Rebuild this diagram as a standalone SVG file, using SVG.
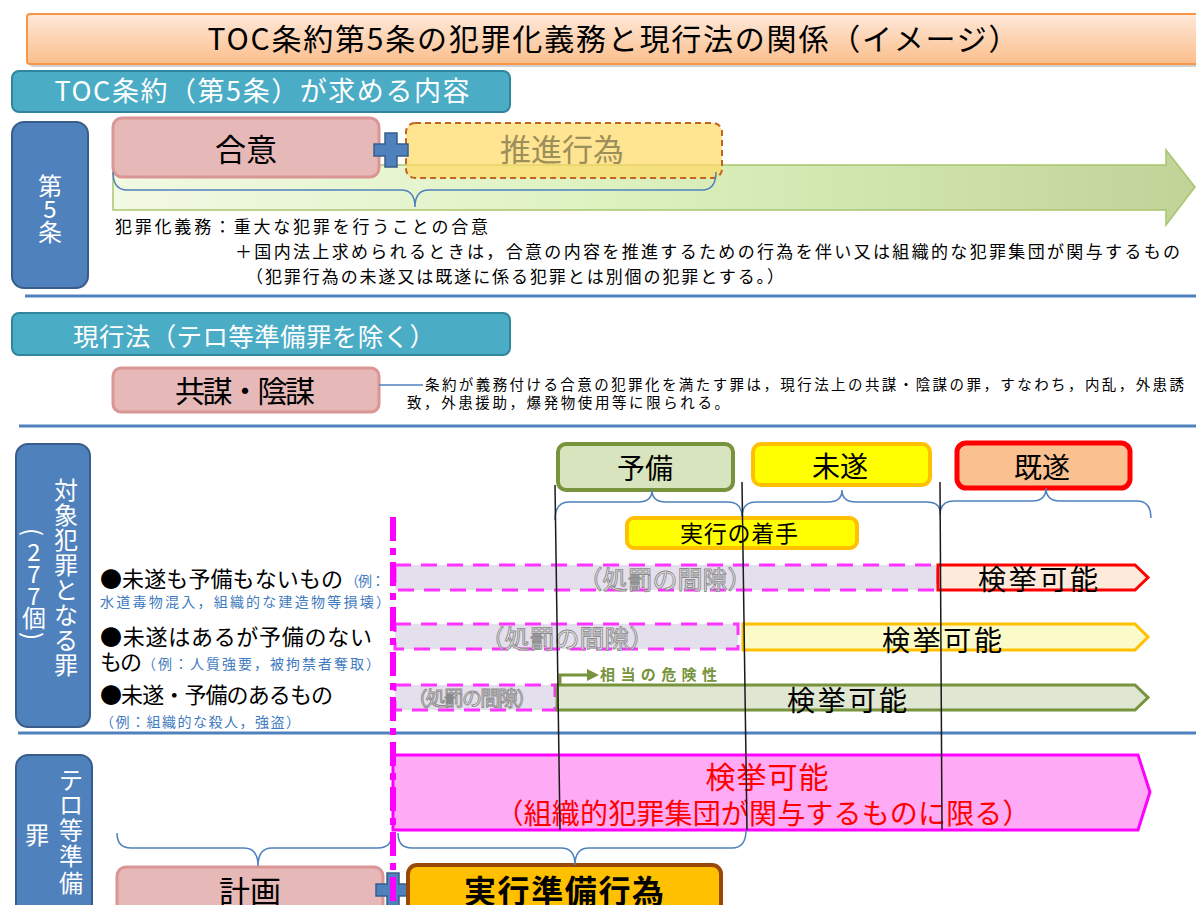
<svg xmlns="http://www.w3.org/2000/svg" width="1196" height="905" viewBox="0 0 1196 905">
<defs>
  <linearGradient id="gTitle" x1="0" y1="0" x2="0" y2="1">
    <stop offset="0" stop-color="#fee9da"/>
    <stop offset="1" stop-color="#fbbe8b"/>
  </linearGradient>
  <linearGradient id="gArrow" x1="0" y1="0" x2="1" y2="0">
    <stop offset="0" stop-color="#f2f9e4"/>
    <stop offset="0.45" stop-color="#def2c0"/>
    <stop offset="1" stop-color="#c0d498"/>
  </linearGradient>
  <path id="plusShape" d="M-6,-17 h12 v11 h11 v12 h-11 v11 h-12 v-11 h-11 v-12 h11 z"/>
</defs>
<style>
  text { font-family: "Noto Sans CJK JP", "Noto Sans", sans-serif; }
  .hdr { fill:#4bacc6; stroke:#31859c; stroke-width:2; }
  .hdrT { fill:#ffffff; text-anchor:middle; }
  .side { fill:#4f81bd; stroke:#385d8a; stroke-width:2; }
  .sideT { fill:#ffffff; font-size:24px; text-anchor:middle; dominant-baseline:central; }
  .pinkBox { fill:#e6b9b8; stroke:#d99694; stroke-width:3; }
  .sep { stroke:#4f81bd; stroke-width:3; }
  .brace { fill:none; stroke:#4f81bd; stroke-width:1.5; }
  .vline { stroke:#1a1a1a; stroke-width:1.5; }
  .gap { fill:#e4dfec; stroke:#ff33ff; stroke-width:3; stroke-dasharray:16 10; }
  .gapT { fill:#eeeeee; stroke:#8a8a8a; stroke-width:0.9; text-anchor:middle; }
  .row { fill:#000000; font-size:22px; }
  .ex { fill:#3f7bc0; font-size:14px; }
  .mid { text-anchor:middle; fill:#000000; }
  .plus { fill:#4f81bd; stroke:#385d8a; stroke-width:1.5; }
  .body { fill:#000000; font-size:17px; }
</style>

<!-- Title -->
<g id="title">
  <rect x="30" y="17" width="1185" height="50" rx="3" fill="#000000" opacity="0.18"/>
  <rect x="27" y="14" width="1185" height="50" rx="3" fill="url(#gTitle)" stroke="#f79646" stroke-width="2"/>
  <text x="613" y="50" class="mid" font-size="30" textLength="811" lengthAdjust="spacing">TOC条約第5条の犯罪化義務と現行法の関係（イメージ）</text>
</g>

<!-- Section 1 -->
<g id="header1">
  <rect x="12" y="71" width="498" height="41" rx="7" class="hdr"/>
  <text x="262" y="101" class="hdrT" font-size="27" textLength="415" lengthAdjust="spacing">TOC条約（第5条）が求める内容</text>
</g>
<g id="side-art5">
  <rect x="12" y="122" width="76" height="166" rx="12" class="side"/>
  <text x="50" y="184" class="sideT" font-size="25">第</text>
  <text x="50" y="207" class="sideT" font-size="25">5</text>
  <text x="50" y="230" class="sideT" font-size="25">条</text>
</g>
<g id="timeline-arrow">
  <polygon points="113,165 1166,165 1166,150 1195,187 1166,225 1166,210 113,210" fill="url(#gArrow)" stroke="#a9c56f" stroke-width="1.5"/>
</g>
<g id="node-goi">
  <rect x="113" y="118" width="266" height="59" rx="9" class="pinkBox"/>
  <text x="246" y="161" class="mid" font-size="31">合意</text>
</g>
<g id="node-suishin">
  <rect x="406" y="123" width="316" height="55" rx="9" fill="#ffd966" fill-opacity="0.72" stroke="#c0651e" stroke-width="2" stroke-dasharray="6 4"/>
  <text x="562" y="161" text-anchor="middle" font-size="31" fill="#9d8f5a">推進行為</text>
</g>
<g id="plus1"><use href="#plusShape" x="391" y="150" class="plus"/></g>
<g id="text-art5">
  <text x="115" y="233" class="body" textLength="373" lengthAdjust="spacing">犯罪化義務：重大な犯罪を行うことの合意</text>
  <text x="235" y="258" class="body" textLength="945" lengthAdjust="spacing">＋国内法上求められるときは，合意の内容を推進するための行為を伴い又は組織的な犯罪集団が関与するもの</text>
  <text x="246" y="283" class="body" textLength="538" lengthAdjust="spacing">（犯罪行為の未遂又は既遂に係る犯罪とは別個の犯罪とする。）</text>
</g>

<!-- Section 2 -->
<g id="header2">
  <rect x="12" y="313" width="498" height="42" rx="7" class="hdr"/>
  <text x="254" y="346" class="hdrT" font-size="25.5" textLength="362" lengthAdjust="spacing">現行法（テロ等準備罪を除く）</text>
</g>
<g id="node-kyobo">
  <rect x="113" y="368" width="266" height="44" rx="8" class="pinkBox"/>
  <text x="245" y="402" class="mid" font-size="30" textLength="140" lengthAdjust="spacing">共謀・陰謀</text>
</g>
<g id="text-kyobo">
  <text x="425" y="390" font-size="14.5" fill="#000" textLength="759" lengthAdjust="spacing">条約が義務付ける合意の犯罪化を満たす罪は，現行法上の共謀・陰謀の罪，すなわち，内乱，外患誘</text>
  <text x="407" y="408" font-size="14.5" fill="#000" textLength="322" lengthAdjust="spacing">致，外患援助，爆発物使用等に限られる。</text>
</g>

<!-- Section 3 -->
<g id="side-target">
  <rect x="16" y="444" width="74" height="283" rx="12" class="side"/>
  <text x="66" y="488" class="sideT">対</text>
  <text x="66" y="513" class="sideT">象</text>
  <text x="66" y="538" class="sideT">犯</text>
  <text x="66" y="563" class="sideT">罪</text>
  <text x="66" y="588" class="sideT">と</text>
  <text x="66" y="613" class="sideT">な</text>
  <text x="66" y="638" class="sideT">る</text>
  <text x="66" y="663" class="sideT">罪</text>
  <text x="34" y="532" class="sideT" transform="rotate(90 34 532)">(</text>
  <text x="34" y="550" class="sideT" font-size="23">2</text>
  <text x="34" y="572" class="sideT" font-size="23">7</text>
  <text x="34" y="594" class="sideT" font-size="23">7</text>
  <text x="34" y="616" class="sideT" font-size="22">個</text>
  <text x="34" y="636" class="sideT" transform="rotate(90 34 636)">)</text>
</g>
<g id="stage-yobi">
  <rect x="558" y="444" width="175" height="46" rx="8" fill="#d7e4bd" stroke="#77933c" stroke-width="4"/>
  <text x="645" y="479" class="mid" font-size="28">予備</text>
</g>
<g id="stage-misui">
  <rect x="753" y="444" width="177" height="41" rx="8" fill="#ffff00" stroke="#ffc000" stroke-width="4"/>
  <text x="840" y="477" class="mid" font-size="28">未遂</text>
</g>
<g id="stage-kisui">
  <rect x="957" y="443" width="173" height="45" rx="9" fill="#fac090" stroke="#ff0000" stroke-width="5"/>
  <text x="1042" y="478" class="mid" font-size="28">既遂</text>
</g>
<g id="node-chakushu">
  <rect x="627" y="518" width="230" height="30" rx="7" fill="#ffff00" stroke="#ffc000" stroke-width="4"/>
  <text x="739" y="542" class="mid" font-size="23" textLength="118" lengthAdjust="spacing">実行の着手</text>
</g>

<g id="row1">
  <text x="100" y="587" class="row" textLength="243" lengthAdjust="spacing">●未遂も予備もないもの</text>
  <text x="345" y="586" class="ex" textLength="40" lengthAdjust="spacing">（例：</text>
  <text x="100" y="607" class="ex" textLength="290" lengthAdjust="spacing">水道毒物混入，組織的な建造物等損壊）</text>
  <rect x="395" y="565" width="543" height="25" class="gap"/>
  <text x="665" y="589" class="gapT" font-size="25" textLength="175" lengthAdjust="spacing">（処罰の間隙）</text>
  <path d="M938,565 L1135,565 L1148,577.5 L1135,590 L938,590 Z" fill="#fdeada" stroke="#ff0000" stroke-width="3"/>
  <text x="1038" y="590" class="mid" font-size="28" textLength="120" lengthAdjust="spacing">検挙可能</text>
</g>
<g id="row2">
  <text x="100" y="645" class="row" textLength="272" lengthAdjust="spacing">●未遂はあるが予備のない</text>
  <text x="100" y="670" class="row" textLength="42" lengthAdjust="spacing">もの</text>
  <text x="142" y="669" class="ex" textLength="238" lengthAdjust="spacing">（例：人質強要，被拘禁者奪取）</text>
  <rect x="395" y="624" width="343" height="25" class="gap"/>
  <text x="567" y="648" class="gapT" font-size="25" textLength="175" lengthAdjust="spacing">（処罰の間隙）</text>
  <path d="M743,624 L1135,624 L1148,637 L1135,650 L743,650 Z" fill="#fbfbc9" stroke="#ffc000" stroke-width="3"/>
  <text x="942" y="651" class="mid" font-size="28" textLength="120" lengthAdjust="spacing">検挙可能</text>
</g>
<g id="row3">
  <text x="100" y="703" class="row" font-size="21" textLength="233" lengthAdjust="spacing">●未遂・予備のあるもの</text>
  <text x="100" y="727" class="ex" textLength="200" lengthAdjust="spacing">（例：組織的な殺人，強盗）</text>
  <rect x="395" y="685" width="160" height="25" class="gap"/>
  <text x="472" y="706" class="gapT" font-size="20" textLength="129" lengthAdjust="spacing">（処罰の間隙）</text>
  <path d="M557,685 L1135,685 L1148,697.5 L1135,710 L557,710 Z" fill="#dfe6d2" stroke="#77933c" stroke-width="3"/>
  <text x="847" y="711" class="mid" font-size="28" textLength="120" lengthAdjust="spacing">検挙可能</text>
  <text x="600" y="680" font-size="15" font-weight="bold" fill="#77933c" textLength="117" lengthAdjust="spacing">相当の危険性</text>
</g>

<!-- Section 4 -->
<g id="side-terror">
  <rect x="16" y="755" width="76" height="175" rx="12" class="side"/>
  <text x="71" y="778" class="sideT" font-size="25">テ</text>
  <text x="71" y="803" class="sideT" font-size="25">ロ</text>
  <text x="71" y="828" class="sideT" font-size="25">等</text>
  <text x="71" y="854" class="sideT" font-size="25">準</text>
  <text x="71" y="881" class="sideT" font-size="25">備</text>
  <text x="37" y="833" class="sideT" font-size="25">罪</text>
</g>
<g id="terror-arrow">
  <path d="M393,755 L1138,755 L1150,792 L1138,830 L393,830 Z" fill="#ffaaf5" stroke="#ff00ff" stroke-width="3"/>
  <text x="767" y="788" text-anchor="middle" font-size="30" fill="#ff0000" textLength="123" lengthAdjust="spacing">検挙可能</text>
  <text x="763" y="824" text-anchor="middle" font-size="28" fill="#ff0000" textLength="535" lengthAdjust="spacing">（組織的犯罪集団が関与するものに限る）</text>
</g>
<g id="node-keikaku">
  <rect x="117" y="867" width="266" height="60" rx="9" class="pinkBox"/>
  <text x="250" y="903" class="mid" font-size="31">計画</text>
</g>
<g id="plus2"><use href="#plusShape" x="393" y="890" class="plus"/></g>
<g id="node-junbi">
  <rect x="408" y="865" width="313" height="60" rx="9" fill="#ffc000" stroke="#984807" stroke-width="4"/>
  <text x="564" y="903" class="mid" font-size="32" font-weight="bold" textLength="200" lengthAdjust="spacing">実行準備行為</text>
</g>

<!-- Connectors / lines -->
<g id="connectors">
  <line x1="25" y1="296" x2="1196" y2="296" class="sep"/>
  <line x1="19" y1="426" x2="1196" y2="426" class="sep"/>
  <line x1="18" y1="733" x2="1196" y2="733" class="sep"/>
  <path class="brace" d="M113,172 Q113,190 127,190 L401,190 Q415,190 415,207 Q415,190 429,190 L702,190 Q716,190 716,172"/>
  <path d="M379,385 L423,385" stroke="#4f81bd" stroke-width="1.5" fill="none"/>
  <path class="brace" d="M555,520 Q555,502 569,502 L638,502 Q652,502 652,490 Q652,502 666,502 L728,502 Q742,502 742,517"/>
  <path class="brace" d="M742,517 Q742,502 756,502 L828,502 Q842,502 842,490 Q842,502 856,502 L926,502 Q940,502 940,512"/>
  <path class="brace" d="M940,515 Q940,501 954,501 L1032,501 Q1046,501 1046,488 Q1046,501 1060,501 L1137,501 Q1151,501 1151,518"/>
  <path class="brace" d="M117,833 Q117,848 131,848 L244,848 Q258,848 258,866 Q258,848 272,848 L378,848 Q392,848 392,833"/>
  <path class="brace" d="M398,833 Q398,848 412,848 L561,848 Q575,848 575,865 Q575,848 589,848 L732,848 Q746,848 746,830"/>
  <path d="M560,685 L560,675 L589,675" fill="none" stroke="#77933c" stroke-width="3"/>
  <polygon points="587,669 599,675 587,681" fill="#77933c"/>
  <line x1="393" y1="517" x2="393" y2="905" stroke="#ff00ff" stroke-width="6" stroke-dasharray="24 7 7 7"/>
  <line x1="555" y1="485" x2="560" y2="830" class="vline"/>
  <line x1="742" y1="482" x2="747" y2="830" class="vline"/>
  <line x1="940" y1="482" x2="942" y2="830" class="vline"/>
</g>
</svg>
